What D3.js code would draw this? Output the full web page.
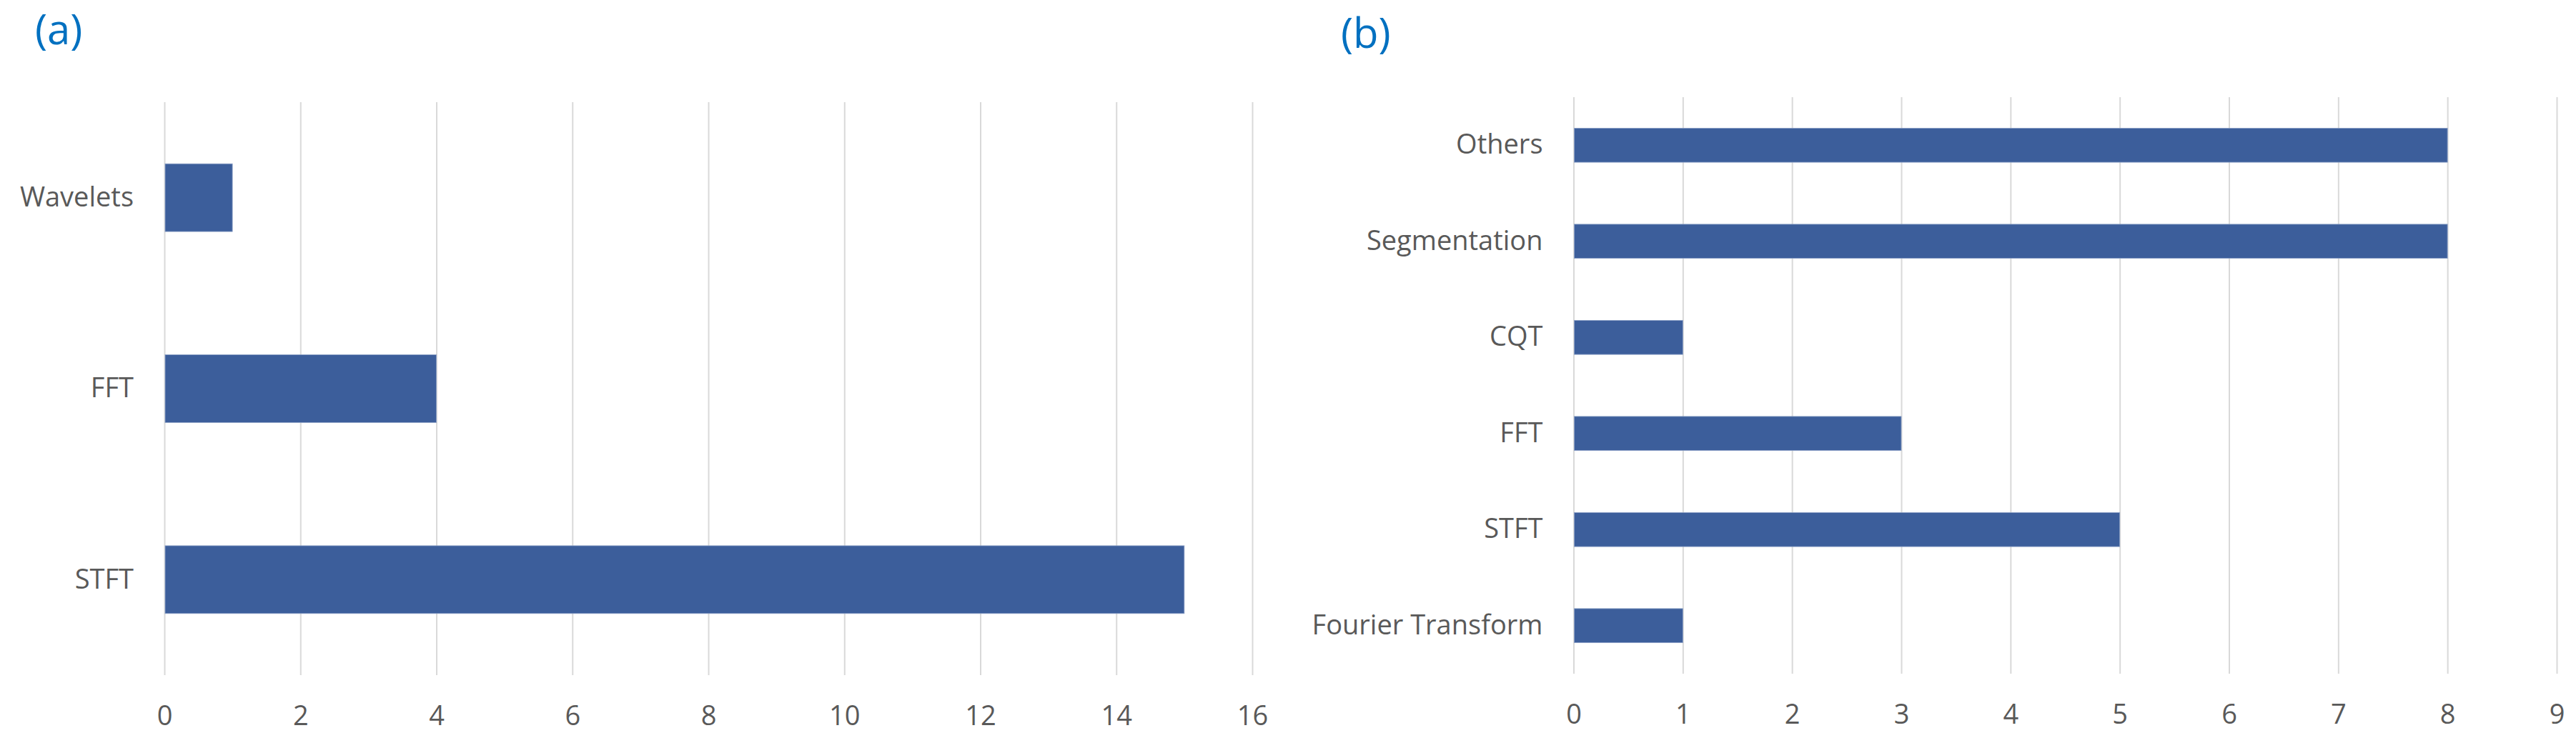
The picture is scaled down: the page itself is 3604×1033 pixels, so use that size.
<!DOCTYPE html>
<html>
<head>
<meta charset="utf-8">
<script src="https://cdn.jsdelivr.net/npm/d3@7"></script>
<style>
  body { margin: 0; background: #fff; }
  text { font-family: "Open Sans", "Noto Sans", sans-serif; }
</style>
</head>
<body>
<svg></svg>
<script>
// Panel (a)
const catsA = ["Wavelets", "FFT", "STFT"];
const valsA = [1, 4, 15];
const ticksA = [0, 2, 4, 6, 8, 10, 12, 14, 16];

// Panel (b)
const catsB = ["Others", "Segmentation", "CQT", "FFT", "STFT", "Fourier Transform"];
const valsB = [8, 8, 1, 3, 5, 1];
const ticksB = [0, 1, 2, 3, 4, 5, 6, 7, 8, 9];

const titles = ["(a)", "(b)"];

const W = 3604, H = 1033;
const barColor = "#3c5e9b";
const gridColor = "#d9d9d9";
const textColor = "#595959";

const svg = d3.select("svg")
   .attr("width", W)
   .attr("height", H);

function drawPanel(cats, vals, ticks, xRange, yRange, title, titlePos) {
   const g = svg.append("g");

   const x = d3.scaleLinear()
      .domain([ticks[0], ticks[ticks.length - 1]])
      .range(xRange);

   const y = d3.scaleBand()
      .domain(cats)
      .range(yRange)
      .paddingInner(0.645)
      .paddingOuter(0.3225);

   // gridlines + tick labels
   const xAxis = g.append("g")
      .attr("transform", `translate(0,${yRange[1]})`)
      .call(d3.axisBottom(x).tickValues(ticks)
         .tickSize(-(yRange[1] - yRange[0]))
         .tickPadding(43)
         .tickFormat(d3.format("d")));
   xAxis.select(".domain").remove();
   xAxis.selectAll(".tick line")
      .attr("stroke", gridColor)
      .attr("stroke-width", 2);
   xAxis.selectAll(".tick text")
      .attr("fill", textColor)
      .style("font-size", "38px");

   // category labels
   const yAxis = g.append("g")
      .attr("transform", `translate(${xRange[0]},0)`)
      .call(d3.axisLeft(y).tickSize(0).tickPadding(43));
   yAxis.select(".domain").remove();
   yAxis.selectAll(".tick text")
      .attr("fill", textColor)
      .style("font-size", "38px");

   // bars
   g.selectAll("rect.bar")
      .data(cats)
      .enter()
      .append("rect")
      .attr("class", "bar")
      .attr("x", x(0) + 1)
      .attr("y", d => y(d))
      .attr("height", y.bandwidth())
      .attr("width", (d, i) => x(vals[i]) - x(0) - 1)
      .attr("fill", barColor)
      .attr("stroke", "#8fa3c8")
      .attr("stroke-width", 0.8);

   g.append("text")
      .attr("x", titlePos[0])
      .attr("y", titlePos[1])
      .attr("fill", "#0070c0")
      .style("font-size", "58px")
      .text(title);
}

drawPanel(catsA, valsA, ticksA, [230, 1752], [143, 945], titles[0], [49, 62]);
drawPanel(catsB, valsB, ticksB, [2201.5, 3577], [136, 943], titles[1], [1876, 67]);
</script>
</body>
</html>
